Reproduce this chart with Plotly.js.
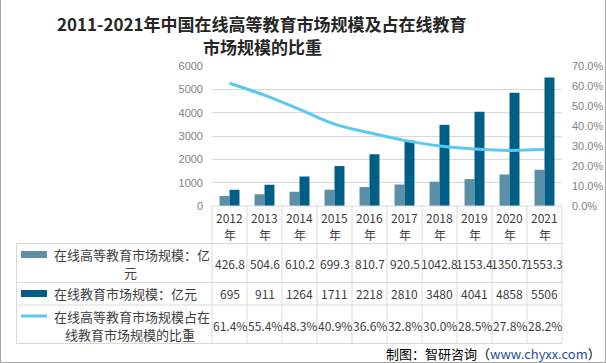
<!DOCTYPE html>
<html>
<head>
<meta charset="utf-8">
<script src="https://cdn.plot.ly/plotly-3.0.1.min.js"></script>
<style>html,body{margin:0;padding:0;background:#fff;}#chart{width:606px;height:363px;}</style>
</head>
<body>
<div id="chart"></div>
<script>
const years = ['2012','2013','2014','2015','2016','2017','2018','2019','2020','2021'];
const yearSuffix = '年';
const higherEdu = [426.8, 504.6, 610.2, 699.3, 810.7, 920.5, 1042.8, 1153.4, 1350.7, 1553.3];
const onlineEdu = [695, 911, 1264, 1711, 2218, 2810, 3480, 4041, 4858, 5506];
const share = [0.614, 0.554, 0.483, 0.409, 0.366, 0.328, 0.300, 0.285, 0.278, 0.282];
const seriesNames = ['在线高等教育市场规模：亿<br>元', '在线教育市场规模：亿元', '在线高等教育市场规模占在<br>线教育市场规模的比重'];
const titleLines = ['2011-2021年中国在线高等教育市场规模及占在线教育', '市场规模的比重'];
const sourceText = '制图：智研咨询（<span style="color:#1F4E9A">www.chyxx.com</span>）';

const C1 = '#5B8FA8', C2 = '#005F86', C3 = '#5BC8F2';
const W = 606, H = 363, L = 212, R = 562, T = 66, B = 206;
const px = x => (x - L) / (R - L);
const py = y => (B - y) / (B - T);
const grid = '#D9D9D9';
const txt = '#404040';
const FONT = 'Noto Sans CJK SC, Noto Sans, sans-serif';

const traces = [
  {type:'bar', x: years, y: higherEdu, name: seriesNames[0], marker:{color:C1}, hoverinfo:'none'},
  {type:'bar', x: years, y: onlineEdu, name: seriesNames[1], marker:{color:C2}, hoverinfo:'none'},
  {type:'scatter', mode:'lines', x: years, y: share, yaxis:'y2', name: seriesNames[2],
   line:{color:C3, width:3, shape:'spline', smoothing:1}, hoverinfo:'none'}
];

const shapes = [];
const line = (x0,y0,x1,y1,color=grid) => shapes.push({type:'line', xref:'paper', yref:'paper',
  x0:px(x0), y0:py(y0), x1:px(x1), y1:py(y1), line:{color, width:1}});
// table horizontal lines
line(L, 206, R, 206);
[243.5, 282.5, 305, 343.5].forEach(y => line(16.5, y, R, y));
// table vertical lines
line(16.5, 243.5, 16.5, 343.5);
for (let k = 0; k <= years.length; k++) { const x = L + k * (R - L) / years.length; line(x, 206, x, 343.5); }
// legend keys
shapes.push({type:'rect', xref:'paper', yref:'paper', x0:px(21), x1:px(47), y0:py(251), y1:py(258), fillcolor:C1, line:{width:0}});
shapes.push({type:'rect', xref:'paper', yref:'paper', x0:px(21), x1:px(47), y0:py(290), y1:py(297), fillcolor:C2, line:{width:0}});
shapes.push({type:'line', xref:'paper', yref:'paper', x0:px(21), x1:px(47), y0:py(316), y1:py(316), line:{color:C3, width:3}});
// outer frame (left, right and bottom)
line(0.5, 0, 0.5, 363, '#A6A6A6');
line(605.5, 0, 605.5, 363, '#A6A6A6');
line(0, 362.5, 606, 362.5, '#A6A6A6');

const annotations = [];
const ann = (x, xref, y, text, opts={}) => annotations.push(Object.assign({
  x, xref, y: py(y), yref:'paper', text, showarrow:false, xanchor:'center', yanchor:'middle',
  font:{family:FONT, size:12, color:txt}}, opts));
years.forEach((yr, i) => {
  ann(i, 'x', 217.5, yr);
  ann(i, 'x', 234.5, yearSuffix);
  ann(i, 'x', 263.5, String(higherEdu[i]));
  ann(i, 'x', 293.5, String(onlineEdu[i]));
  ann(i, 'x', 325.5, (share[i]*100).toFixed(1) + '%');
});
const rowCenters = [263.5, 293.5, 325.5];
const lf = {family:FONT, size:13, color:txt};
seriesNames.forEach((nm, r) => {
  const parts = nm.split('<br>');
  const y0 = rowCenters[r] - (parts.length - 1) * 9;
  parts.forEach((p, j) => {
    if (j === 0) ann(px(52), 'paper', y0, p, {xanchor:'left', font:lf});
    else ann(px(130), 'paper', y0 + 18 * j, p, {xanchor:'center', font:lf});
  });
});
ann(px(603), 'paper', 353, sourceText, {xanchor:'right', font:{family:FONT, size:13, color:'#000'}});
titleLines.forEach((t, j) => ann(px(262), 'paper', 24 + 22 * j, '<b>' + t + '</b>',
  {font:{family:FONT, size:17, color:'#262626'}}));

const layout = {
  width: W, height: H,
  margin:{l:L, r:W-R, t:T, b:H-B, pad:0},
  paper_bgcolor:'#fff', plot_bgcolor:'#fff',
  showlegend:false,
  barmode:'group', bargap:0.43, bargroupgap:0,
  xaxis:{type:'category', range:[-0.5, years.length-0.5], showticklabels:false, showgrid:false, zeroline:false, showline:false, ticks:'', fixedrange:true},
  yaxis:{range:[0,6000], dtick:1000, showgrid:true, gridcolor:grid, gridwidth:1, zeroline:false, showline:false,
         tickfont:{family:'Liberation Sans, sans-serif', size:11, color:'#7F7F7F'}, ticklabelstandoff:8, fixedrange:true},
  yaxis2:{range:[0,0.7], dtick:0.1, tickformat:'.1%', overlaying:'y', side:'right', showgrid:false, zeroline:false, showline:false,
          tickfont:{family:'Liberation Sans, sans-serif', size:11, color:'#7F7F7F'}, ticklabelstandoff:9, fixedrange:true},
  shapes, annotations
};
Plotly.newPlot('chart', traces, layout, {staticPlot:true, displayModeBar:false});
</script>
</body>
</html>
